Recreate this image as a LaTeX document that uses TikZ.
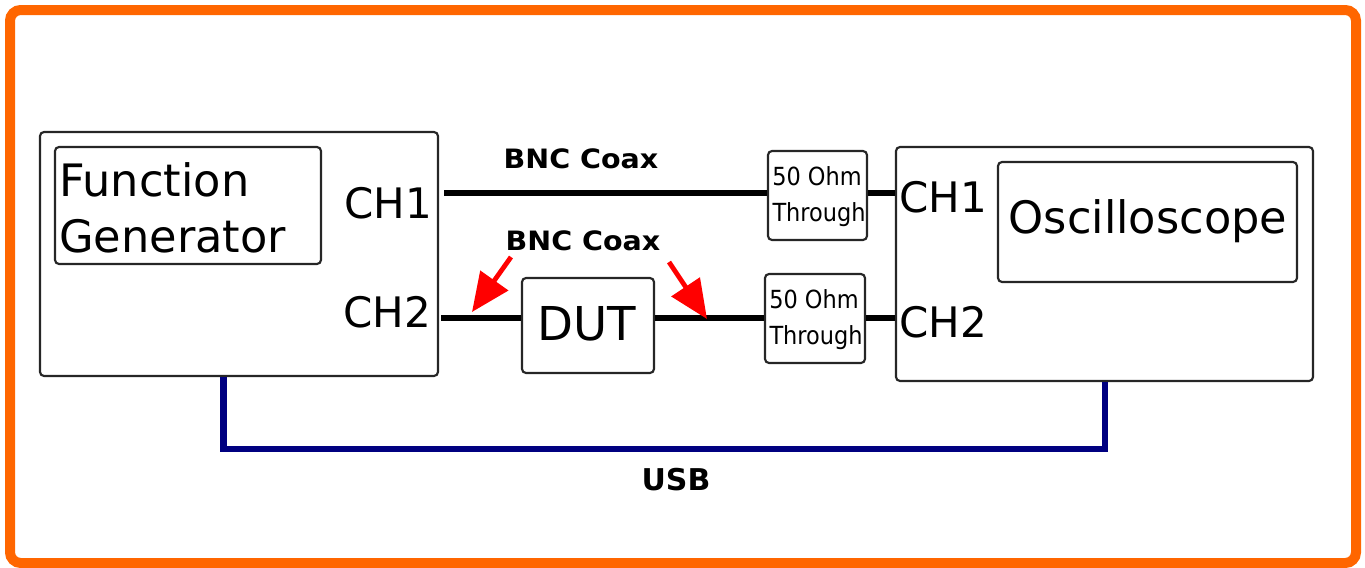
\documentclass[tikz,border=0pt]{standalone}
\usepackage{fontspec}
\setmainfont{DejaVu Sans}
\newfontfamily\condfont{DejaVu Sans Condensed}
\newfontfamily\boldlbl[FakeStretch=1.07]{DejaVu Sans Bold}
\usetikzlibrary{fit,arrows.meta}
\definecolor{frameorange}{RGB}{255,102,0}
\definecolor{usbnavy}{RGB}{0,0,128}
\definecolor{arrowred}{RGB}{255,0,0}
\tikzset{
  box/.style={draw=black!85, line width=1.6pt, rounded corners=3pt, inner sep=0pt},
  cable/.style={line width=3.8pt, black},
  usbline/.style={line width=4.6pt, usbnavy, line join=miter},
  redarrow/.style={line width=3.6pt, arrowred, -{Triangle[length=29pt,width=25pt]}},
  bigtxt/.style={font=\fontsize{33.5}{42}\selectfont, inner sep=0pt},
  chtxt/.style={font=\fontsize{31.5}{38}\selectfont, inner sep=0pt},
  thrutxt/.style={font=\condfont\fontsize{18.7}{27}\selectfont, inner sep=0pt},
  lbltxt/.style={font=\boldlbl\fontsize{20}{24}\selectfont, inner sep=0pt},
}
\begin{document}
\begin{tikzpicture}[x=0.75pt,y=-0.75pt]
\useasboundingbox (0,0) rectangle (1365,568);
% outer frame
\draw[frameorange, line width=7.5pt, rounded corners=8pt] (10,10) rectangle (1356,563);

% function generator
\node[box, fit={(40,132) (438,376)}] (fg) {};
\node[box, fit={(55,147) (321,264)}] (fgin) {};
\node[bigtxt, anchor=base west] (fgt1) at (59,196) {Function};
\node[bigtxt, anchor=base west] (fgt2) at (59,252) {Generator};
\node[chtxt, anchor=base east] (fgch1) at (432,218) {CH1};
\node[chtxt, anchor=base east] (fgch2) at (431,327) {CH2};

% oscilloscope
\node[box, fit={(896,147) (1313,381)}] (osc) {};
\node[box, fit={(998,162) (1297,282)}] (oscin) {};
\node[font=\fontsize{33.5}{42}\selectfont, inner sep=0pt, anchor=base] (osct) at (1148,233) {Oscilloscope};
\node[chtxt, anchor=base west] (oscch1) at (899,212) {CH1};
\node[chtxt, anchor=base west] (oscch2) at (899,337) {CH2};

% DUT and terminators
\node[box, fit={(522,278) (654,373)}] (dut) {};
\node[font=\fontsize{35}{42}\selectfont, inner sep=0pt, anchor=base] (dutt) at (587,340) {DUT};
\node[box, fit={(768,151) (867,240)}] (t1) {};
\node[box, fit={(765,274) (865,363)}] (t2) {};
\node[thrutxt, anchor=base] (t1a) at (817,185) {50 Ohm};
\node[thrutxt, anchor=base] (t1b) at (819,221) {Through};
\node[thrutxt, anchor=base] (t2a) at (814,308) {50 Ohm};
\node[thrutxt, anchor=base] (t2b) at (816,344) {Through};

% cables channel 1
\draw[cable] (fg.east |- 0,193) ++(5,0) -- (t1.west |- 0,193);
\draw[cable] (t1.east |- 0,193) -- (osc.west |- 0,193);
% cables channel 2
\draw[cable] (fg.east |- 0,318) ++(2,0) -- (dut.west |- 0,318);
\draw[cable] (dut.east |- 0,318) -- (t2.west |- 0,318);
\draw[cable] (t2.east |- 0,318) -- (osc.west |- 0,318);

% labels
\node[lbltxt, anchor=base] (bnc1) at (581,168) {BNC Coax};
\node[lbltxt, anchor=base] (bnc2) at (583,250) {BNC Coax};

% red arrows
\coordinate (a1s) at (511,257);
\coordinate (a1e) at (472,312);
\coordinate (a2s) at (669,262);
\coordinate (a2e) at (707,319);
\draw[redarrow] (a1s) -- (a1e);
\draw[redarrow] (a2s) -- (a2e);

% USB
\coordinate (u1) at (223.5,449);
\coordinate (u2) at (1105,449);
\draw[usbline] (fg.south -| u1) -- (u1) -- (u2) -- (osc.south -| u2);
\node[font=\bfseries\fontsize{22.5}{27}\selectfont, inner sep=0pt, anchor=base] (usb) at (676,490) {USB};
\end{tikzpicture}
\end{document}
